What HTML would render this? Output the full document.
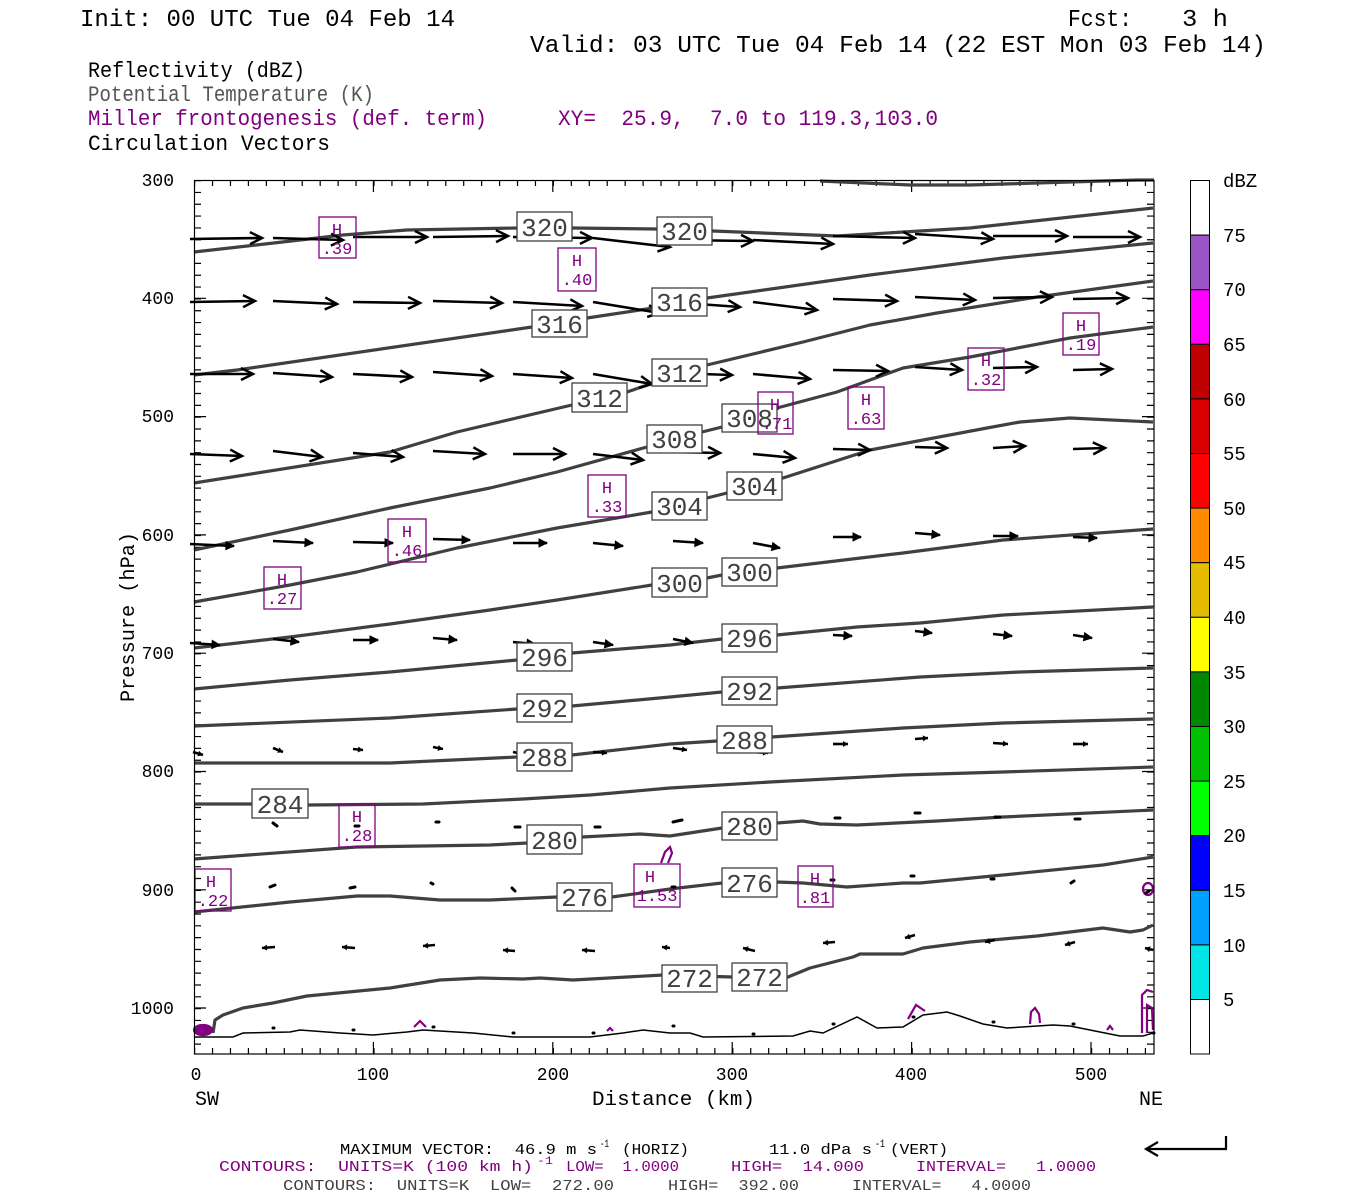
<!DOCTYPE html>
<html><head><meta charset="utf-8"><style>
html,body{margin:0;padding:0;background:#fff;}
svg{display:block;}
text{font-family:"Liberation Mono","DejaVu Sans Mono",monospace;white-space:pre;}
</style></head><body>
<svg width="1350" height="1200" viewBox="0 0 1350 1200" xmlns="http://www.w3.org/2000/svg" xml:space="preserve">
<defs>
<marker id="ab" viewBox="-14 -8 16 16" markerWidth="16" markerHeight="16" refX="0" refY="0" orient="auto" markerUnits="userSpaceOnUse" overflow="visible"><path d="M-12,-6 L0,0 L-12,6" fill="none" stroke="#000" stroke-width="2.5"/></marker>
<marker id="am" viewBox="-10 -6 12 12" markerWidth="12" markerHeight="12" refX="0" refY="0" orient="auto" markerUnits="userSpaceOnUse" overflow="visible"><path d="M-8,-4 L0,0 L-8,4 Z" fill="#000" stroke="#000" stroke-width="1"/></marker>
<marker id="as" viewBox="-8 -4 10 8" markerWidth="10" markerHeight="8" refX="0" refY="0" orient="auto" markerUnits="userSpaceOnUse" overflow="visible"><path d="M-5,-3 L0,0 L-5,3 Z" fill="#000"/></marker>
</defs>

<!-- header -->
<text x="80" y="26" font-size="24" textLength="375" lengthAdjust="spacingAndGlyphs">Init: 00 UTC Tue 04 Feb 14</text>
<text x="1068" y="26" font-size="24" textLength="64" lengthAdjust="spacingAndGlyphs">Fcst:</text>
<text x="1182" y="26" font-size="24" textLength="46" lengthAdjust="spacingAndGlyphs">3 h</text>
<text x="530" y="52" font-size="24" textLength="736" lengthAdjust="spacingAndGlyphs">Valid: 03 UTC Tue 04 Feb 14 (22 EST Mon 03 Feb 14)</text>
<text x="88" y="77" font-size="22" textLength="217" lengthAdjust="spacingAndGlyphs">Reflectivity (dBZ)</text>
<text x="88" y="101" font-size="22" fill="#555" textLength="286" lengthAdjust="spacingAndGlyphs">Potential Temperature (K)</text>
<text x="88" y="125" font-size="22" fill="#800080" textLength="399" lengthAdjust="spacingAndGlyphs">Miller frontogenesis (def. term)</text>
<text x="558" y="125" font-size="22" fill="#800080" textLength="380" lengthAdjust="spacingAndGlyphs">XY=  25.9,  7.0 to 119.3,103.0</text>
<text x="88" y="150" font-size="22" textLength="242" lengthAdjust="spacingAndGlyphs">Circulation Vectors</text>

<!-- ticks -->
<g stroke="#000" fill="none">
<line x1="194" y1="183" x2="1155" y2="183" stroke-width="6" stroke-dasharray="1.2 16.74"/>
<line x1="194" y1="1051" x2="1155" y2="1051" stroke-width="6" stroke-dasharray="1.2 16.74"/>
<line x1="197.5" y1="180" x2="197.5" y2="1054" stroke-width="7" stroke-dasharray="1.2 10.629"/>
<line x1="1150.5" y1="180" x2="1150.5" y2="1054" stroke-width="7" stroke-dasharray="1.2 10.629"/>
</g>
<g stroke="#000" stroke-width="1.2">
<path d="M373.4,180v12M552.8,180v12M732.2,180v12M911.6,180v12M1091,180v12M373.4,1054v-12M552.8,1054v-12M732.2,1054v-12M911.6,1054v-12M1091,1054v-12"/>
<path d="M194,298.3h12M194,416.6h12M194,534.9h12M194,653.2h12M194,771.5h12M194,889.8h12M194,1008h12M1154,298.3h-12M1154,416.6h-12M1154,534.9h-12M1154,653.2h-12M1154,771.5h-12M1154,889.8h-12M1154,1008h-12"/>
</g>

<!-- isentropes -->
<g fill="none" stroke="#404040" stroke-width="3.2" stroke-linejoin="round">
<path d="M820,181 L910,185 L970,185 L1137,180 L1154,180"/>
<path d="M194,252 L300,240 L343,235 L407,230 L517,228 L572,228 L657,229 L713,231 L837,236 L970,228 L1153,208"/>
<path d="M194,375 L237,370 L532,327 L587,318 L653,308 L707,298 L870,275 L1003,258 L1153,243"/>
<path d="M194,483 L390,452 L457,432 L572,405 L627,392 L653,383 L707,365 L803,342 L870,325 L937,313 L1037,297 L1153,281"/>
<path d="M194,550 L290,530 L390,508 L490,488 L557,472 L647,447 L702,432 L722,427 L777,408 L837,392 L903,368 L970,357 L1070,338 L1153,327"/>
<path d="M194,602 L290,585 L357,572 L457,548 L557,528 L652,512 L707,498 L727,493 L783,478 L870,450 L987,428 L1020,422 L1070,418 L1153,422"/>
<path d="M194,648 L290,637 L390,624 L490,610 L557,600 L652,585 L707,578 L722,575 L777,568 L903,553 L1003,540 L1153,529"/>
<path d="M194,689 L290,680 L390,672 L517,660 L572,653 L670,645 L722,639 L777,635 L857,627 L920,623 L1003,615 L1153,607"/>
<path d="M194,726 L390,718 L517,709 L572,706 L670,697 L722,692 L777,688 L920,677 L1020,672 L1153,668"/>
<path d="M194,763 L390,763 L517,757 L572,755 L670,744 L717,741 L772,737 L903,728 L1003,723 L1153,719"/>
<path d="M194,804 L252,804 L308,805 L423,804 L523,799 L590,795 L670,788 L770,782 L903,775 L1003,772 L1153,767"/>
<path d="M194,859 L357,847 L490,845 L527,843 L582,837 L640,834 L670,836 L722,828 L777,823 L803,821 L820,824 L857,825 L937,821 L1003,817 L1153,810"/>
<path d="M194,912 L290,902 L357,896 L390,896 L440,900 L490,900 L557,897 L612,897 L670,889 L722,883 L777,882 L803,883 L847,887 L903,883 L920,883 L1003,875 L1103,865 L1153,857"/>
<path d="M213,1033 L215,1020 L223,1015 L243,1008 L273,1003 L307,996 L390,988 L440,980 L480,978 L523,979 L540,978 L573,980 L663,975 L732,977 L788,977 L810,968 L853,957 L860,954 L903,954 L923,948 L970,942 L1037,936 L1103,928 L1130,932 L1143,930 L1153,925"/>
</g>
<!-- ground -->
<path d="M194,1037 L233,1037 L243,1033 L290,1032 L300,1030 L340,1033 L373,1035 L407,1032 L423,1030 L473,1033 L513,1037 L590,1037 L623,1033 L643,1030 L670,1033 L690,1033 L703,1037 L793,1036 L810,1031 L823,1033 L857,1017 L877,1028 L903,1027 L923,1015 L947,1012 L960,1016 L983,1024 L1007,1028 L1053,1025 L1070,1026 L1120,1036 L1143,1036 L1153,1033" fill="none" stroke="#000" stroke-width="1.5"/>

<!-- purple small contours -->
<g fill="none" stroke="#800080" stroke-width="2.2">
<ellipse cx="203" cy="1030" rx="9" ry="5" fill="#800080"/>
<path d="M414,1027 L420,1021 L426,1027"/>
<path d="M607,1031 L610,1028 L613,1031"/>
<path d="M908,1019 L916,1005 L925,1011"/>
<path d="M1030,1024 L1031,1012 L1035,1008 L1039,1014 L1040,1023"/>
<path d="M1107,1030 L1110,1026 L1113,1030"/>
<path d="M1142,1033 L1142,995 L1147,990 L1153,992 M1147,1033 L1147,1005 L1152,1008 L1153,1030"/>
<ellipse cx="1148" cy="889" rx="5" ry="6"/>
<path d="M661,863 L665,852 L670,847 L672,853 L668,863"/>
</g>

<!-- vectors -->
<g stroke="#000" stroke-width="2.6" fill="none" marker-end="url(#ab)">
<line x1="190" y1="239" x2="262" y2="238"/><line x1="273" y1="238" x2="343" y2="240"/><line x1="353" y1="237" x2="427" y2="237"/><line x1="433" y1="237" x2="508" y2="236"/><line x1="513" y1="237" x2="592" y2="238"/><line x1="593" y1="238" x2="670" y2="247"/><line x1="674" y1="240" x2="753" y2="241"/><line x1="753" y1="240" x2="833" y2="244"/><line x1="833" y1="236" x2="915" y2="238"/><line x1="915" y1="234" x2="993" y2="239"/><line x1="993" y1="236" x2="1067" y2="236"/><line x1="1073" y1="237" x2="1140" y2="237"/>
<line x1="190" y1="302" x2="255" y2="301"/><line x1="273" y1="301" x2="337" y2="304"/><line x1="353" y1="302" x2="420" y2="303"/><line x1="433" y1="301" x2="502" y2="303"/><line x1="513" y1="302" x2="582" y2="306"/><line x1="593" y1="302" x2="660" y2="313"/><line x1="670" y1="302" x2="740" y2="307"/><line x1="753" y1="302" x2="817" y2="310"/><line x1="833" y1="299" x2="897" y2="301"/><line x1="915" y1="297" x2="975" y2="300"/><line x1="993" y1="298" x2="1052" y2="297"/><line x1="1073" y1="299" x2="1128" y2="298"/>
<line x1="190" y1="374" x2="253" y2="374"/><line x1="273" y1="373" x2="332" y2="377"/><line x1="353" y1="374" x2="412" y2="377"/><line x1="433" y1="372" x2="492" y2="376"/><line x1="513" y1="374" x2="572" y2="378"/><line x1="593" y1="374" x2="652" y2="384"/><line x1="670" y1="373" x2="732" y2="375"/><line x1="753" y1="374" x2="810" y2="379"/><line x1="833" y1="370" x2="888" y2="371"/><line x1="915" y1="367" x2="962" y2="370"/><line x1="993" y1="368" x2="1037" y2="367"/><line x1="1073" y1="370" x2="1112" y2="369"/>
<line x1="190" y1="454" x2="242" y2="456"/><line x1="273" y1="451" x2="322" y2="457"/><line x1="353" y1="453" x2="403" y2="457"/><line x1="433" y1="451" x2="485" y2="454"/><line x1="513" y1="454" x2="565" y2="454"/><line x1="593" y1="454" x2="643" y2="460"/><line x1="670" y1="452" x2="720" y2="453"/><line x1="753" y1="454" x2="795" y2="458"/><line x1="833" y1="449" x2="870" y2="450"/><line x1="915" y1="447" x2="947" y2="448"/><line x1="993" y1="448" x2="1025" y2="446"/><line x1="1073" y1="449" x2="1105" y2="448"/>
</g>
<g stroke="#000" stroke-width="2.6" fill="none" marker-end="url(#am)">
<line x1="190" y1="544" x2="234" y2="546"/><line x1="273" y1="541" x2="313" y2="543"/><line x1="353" y1="542" x2="393" y2="543"/><line x1="433" y1="539" x2="470" y2="540"/><line x1="513" y1="543" x2="547" y2="543"/><line x1="593" y1="543" x2="623" y2="546"/><line x1="673" y1="541" x2="703" y2="543"/><line x1="753" y1="543" x2="780" y2="548"/><line x1="833" y1="537" x2="861" y2="537"/><line x1="915" y1="533" x2="940" y2="535"/><line x1="993" y1="536" x2="1018" y2="536"/><line x1="1073" y1="537" x2="1097" y2="538"/>
<line x1="190" y1="643" x2="220" y2="645"/><line x1="273" y1="639" x2="299" y2="642"/><line x1="353" y1="640" x2="378" y2="640"/><line x1="433" y1="638" x2="457" y2="640"/><line x1="513" y1="642" x2="535" y2="644"/><line x1="593" y1="642" x2="613" y2="645"/><line x1="673" y1="639" x2="693" y2="643"/><line x1="753" y1="643" x2="772" y2="645"/><line x1="833" y1="635" x2="852" y2="636"/><line x1="915" y1="631" x2="932" y2="633"/><line x1="993" y1="634" x2="1012" y2="636"/><line x1="1073" y1="635" x2="1092" y2="638"/>
</g>
<g stroke="#000" stroke-width="2.6" fill="none" marker-end="url(#as)">
<line x1="193" y1="752" x2="203" y2="755"/><line x1="273" y1="748" x2="283" y2="752"/><line x1="353" y1="749" x2="363" y2="750"/><line x1="433" y1="747" x2="443" y2="749"/><line x1="513" y1="752" x2="523" y2="754"/><line x1="593" y1="752" x2="607" y2="753"/><line x1="673" y1="748" x2="687" y2="750"/><line x1="753" y1="752" x2="768" y2="753"/><line x1="833" y1="744" x2="848" y2="744"/><line x1="915" y1="739" x2="928" y2="738"/><line x1="993" y1="743" x2="1008" y2="744"/><line x1="1073" y1="744" x2="1088" y2="744"/>
<line x1="275" y1="947" x2="262" y2="948"/><line x1="355" y1="948" x2="342" y2="947"/><line x1="435" y1="945" x2="423" y2="946"/><line x1="515" y1="951" x2="503" y2="950"/><line x1="595" y1="951" x2="582" y2="950"/><line x1="670" y1="948" x2="662" y2="947"/><line x1="755" y1="951" x2="743" y2="948"/><line x1="835" y1="942" x2="823" y2="943"/><line x1="915" y1="935" x2="905" y2="938"/><line x1="995" y1="940" x2="985" y2="942"/><line x1="1075" y1="942" x2="1065" y2="945"/><line x1="1153" y1="950" x2="1145" y2="948"/>
</g>
<g stroke="#000" stroke-width="3" stroke-linecap="round">
<path d="M273,823L277,826M355,826L359,826M436,822L439,822M515,827L520,827M595,827L600,827M673,822L682,820M835,818L840,818M915,813L920,813M995,817L1000,817M1075,819L1080,819"/>
<path d="M270,887L275,885M350,888L355,887M431,883L433,884M512,888L515,891M589,887L592,887M672,887L675,887M749,890L752,890M831,880L834,880M911,876L914,876M991,879L994,879M1071,883L1074,881M1146,893L1149,891"/>
<path d="M273,1028L274,1028M353,1030L354,1030M433,1027L434,1027M513,1033L514,1033M593,1033L594,1033M673,1026L674,1026M753,1034L754,1034M833,1024L834,1024M913,1017L914,1017M993,1022L994,1022M1073,1024L1074,1024M1153,1033L1154,1033"/>
</g>

<!-- contour labels -->
<g font-size="26" fill="#404040">
<g fill="#fff" stroke="#404040" stroke-width="1.3">
<rect x="517" y="212" width="55" height="29"/><rect x="657" y="217" width="55" height="28"/>
<rect x="532" y="310" width="55" height="27"/><rect x="652" y="288" width="55" height="28"/>
<rect x="572" y="383" width="55" height="29"/><rect x="652" y="359" width="55" height="27"/>
<rect x="647" y="425" width="55" height="28"/><rect x="722" y="404" width="55" height="28"/>
<rect x="652" y="492" width="55" height="28"/><rect x="727" y="472" width="55" height="28"/>
<rect x="652" y="568" width="55" height="29"/><rect x="722" y="558" width="55" height="28"/>
<rect x="517" y="643" width="55" height="28"/><rect x="722" y="624" width="55" height="28"/>
<rect x="517" y="694" width="55" height="28"/><rect x="722" y="677" width="55" height="28"/>
<rect x="517" y="743" width="55" height="28"/><rect x="717" y="726" width="55" height="27"/>
<rect x="252" y="789" width="56" height="29"/>
<rect x="527" y="825" width="55" height="29"/><rect x="722" y="812" width="55" height="28"/>
<rect x="557" y="883" width="55" height="28"/><rect x="722" y="868" width="55" height="29"/>
<rect x="662" y="965" width="55" height="27"/><rect x="732" y="963" width="55" height="28"/>
</g>
<g text-anchor="middle">
<text x="544.5" y="236">320</text><text x="684.5" y="240">320</text>
<text x="559.5" y="333">316</text><text x="679.5" y="311">316</text>
<text x="599.5" y="407">312</text><text x="679.5" y="382">312</text>
<text x="674.5" y="448">308</text><text x="749.5" y="427">308</text>
<text x="679.5" y="515">304</text><text x="754.5" y="495">304</text>
<text x="679.5" y="592">300</text><text x="749.5" y="581">300</text>
<text x="544.5" y="666">296</text><text x="749.5" y="647">296</text>
<text x="544.5" y="717">292</text><text x="749.5" y="700">292</text>
<text x="544.5" y="766">288</text><text x="744.5" y="749">288</text>
<text x="280" y="813">284</text>
<text x="554.5" y="849">280</text><text x="749.5" y="835">280</text>
<text x="584.5" y="906">276</text><text x="749.5" y="892">276</text>
<text x="689.5" y="987">272</text><text x="759.5" y="986">272</text>
</g>
</g>

<!-- H labels -->
<g fill="none" stroke="#800080" stroke-width="1.3">
<rect x="319" y="217" width="37" height="41"/><rect x="558" y="248" width="38" height="43"/>
<rect x="388" y="519" width="38" height="43"/><rect x="264" y="567" width="37" height="42"/>
<rect x="588" y="475" width="38" height="42"/><rect x="758" y="392" width="35" height="42"/>
<rect x="848" y="387" width="36" height="42"/><rect x="968" y="348" width="36" height="42"/>
<rect x="1063" y="313" width="36" height="42"/><rect x="339" y="804" width="36" height="43"/>
<rect x="195" y="869" width="36" height="42"/><rect x="634" y="864" width="46" height="43"/>
<rect x="798" y="866" width="35" height="41"/>
</g>
<g fill="#800080" font-size="17" text-anchor="middle">
<text x="337" y="235">H</text><text x="337" y="254">.39</text>
<text x="577" y="266">H</text><text x="577" y="285">.40</text>
<text x="407" y="537">H</text><text x="407" y="556">.46</text>
<text x="282" y="585">H</text><text x="282" y="604">.27</text>
<text x="607" y="493">H</text><text x="607" y="512">.33</text>
<text x="775" y="410">H</text><text x="777" y="429">.71</text>
<text x="866" y="405">H</text><text x="866" y="424">.63</text>
<text x="986" y="366">H</text><text x="986" y="385">.32</text>
<text x="1081" y="331">H</text><text x="1081" y="350">.19</text>
<text x="357" y="822">H</text><text x="357" y="841">.28</text>
<text x="211" y="887">H</text><text x="213" y="906">.22</text>
<text x="650" y="882">H</text><text x="657" y="901">1.53</text>
<text x="815" y="884">H</text><text x="815" y="903">.81</text>
</g>

<!-- frame -->
<rect x="194.5" y="180.5" width="959.5" height="873.5" fill="none" stroke="#000" stroke-width="1.2"/>

<!-- axis labels -->
<g font-size="18" text-anchor="end">
<text x="174" y="186">300</text><text x="174" y="304">400</text><text x="174" y="422">500</text><text x="174" y="541">600</text>
<text x="174" y="659">700</text><text x="174" y="777">800</text><text x="174" y="896">900</text><text x="174" y="1014">1000</text>
</g>
<g font-size="18" text-anchor="middle">
<text x="196" y="1080">0</text><text x="373" y="1080">100</text><text x="553" y="1080">200</text><text x="732" y="1080">300</text><text x="911" y="1080">400</text><text x="1091" y="1080">500</text>
</g>
<text x="195" y="1105" font-size="20">SW</text>
<text x="1139" y="1105" font-size="20">NE</text>
<text x="592" y="1105" font-size="20" textLength="163" lengthAdjust="spacingAndGlyphs">Distance (km)</text>
<text transform="translate(134,617) rotate(-90)" font-size="20" text-anchor="middle" textLength="170" lengthAdjust="spacingAndGlyphs">Pressure (hPa)</text>

<!-- colorbar -->
<g stroke="#000" stroke-width="1">
<rect x="1190.5" y="180.5" width="19" height="54.6" fill="#fff"/>
<rect x="1190.5" y="235.1" width="19" height="54.6" fill="#9b55c4"/>
<rect x="1190.5" y="289.7" width="19" height="54.6" fill="#ff00ff"/>
<rect x="1190.5" y="344.3" width="19" height="54.6" fill="#c00000"/>
<rect x="1190.5" y="398.9" width="19" height="54.6" fill="#d80000"/>
<rect x="1190.5" y="453.5" width="19" height="54.6" fill="#ff0000"/>
<rect x="1190.5" y="508.1" width="19" height="54.6" fill="#ff8c00"/>
<rect x="1190.5" y="562.7" width="19" height="54.6" fill="#e6bc00"/>
<rect x="1190.5" y="617.3" width="19" height="54.6" fill="#ffff00"/>
<rect x="1190.5" y="671.9" width="19" height="54.6" fill="#008800"/>
<rect x="1190.5" y="726.5" width="19" height="54.6" fill="#00c000"/>
<rect x="1190.5" y="781.1" width="19" height="54.6" fill="#00ff00"/>
<rect x="1190.5" y="835.7" width="19" height="54.6" fill="#0000ff"/>
<rect x="1190.5" y="890.3" width="19" height="54.6" fill="#00a0ff"/>
<rect x="1190.5" y="944.9" width="19" height="54.6" fill="#00e6e6"/>
<rect x="1190.5" y="999.5" width="19" height="54.5" fill="#fff"/>
</g>
<g font-size="19">
<text x="1223" y="187">dBZ</text>
<text x="1223" y="242">75</text><text x="1223" y="296">70</text><text x="1223" y="351">65</text><text x="1223" y="406">60</text>
<text x="1223" y="460">55</text><text x="1223" y="515">50</text><text x="1223" y="569">45</text><text x="1223" y="624">40</text>
<text x="1223" y="679">35</text><text x="1223" y="733">30</text><text x="1223" y="788">25</text><text x="1223" y="842">20</text>
<text x="1223" y="897">15</text><text x="1223" y="952">10</text><text x="1223" y="1006">5</text>
</g>

<!-- footer -->
<g font-size="15">
<text x="340" y="1154" textLength="257" lengthAdjust="spacingAndGlyphs">MAXIMUM VECTOR:  46.9 m s</text>
<text x="600" y="1147" font-size="11" textLength="9" lengthAdjust="spacingAndGlyphs">-1</text>
<text x="622" y="1154" textLength="67" lengthAdjust="spacingAndGlyphs">(HORIZ)</text>
<text x="769" y="1154" textLength="103" lengthAdjust="spacingAndGlyphs">11.0 dPa s</text>
<text x="875" y="1147" font-size="11" textLength="10" lengthAdjust="spacingAndGlyphs">-1</text>
<text x="890" y="1154" textLength="58" lengthAdjust="spacingAndGlyphs">(VERT)</text>
</g>
<g font-size="15" fill="#800080">
<text x="219" y="1171" textLength="314" lengthAdjust="spacingAndGlyphs">CONTOURS:  UNITS=K (100 km h)</text>
<text x="537" y="1164" font-size="11" textLength="16" lengthAdjust="spacingAndGlyphs">-1</text>
<text x="566" y="1171" textLength="113" lengthAdjust="spacingAndGlyphs">LOW=  1.0000</text>
<text x="731" y="1171" textLength="133" lengthAdjust="spacingAndGlyphs">HIGH=  14.000</text>
<text x="916" y="1171" textLength="180" lengthAdjust="spacingAndGlyphs">INTERVAL=   1.0000</text>
</g>
<g font-size="15" fill="#404040">
<text x="283" y="1190" textLength="331" lengthAdjust="spacingAndGlyphs">CONTOURS:  UNITS=K  LOW=  272.00</text>
<text x="668" y="1190" textLength="131" lengthAdjust="spacingAndGlyphs">HIGH=  392.00</text>
<text x="852" y="1190" textLength="179" lengthAdjust="spacingAndGlyphs">INTERVAL=   4.0000</text>
</g>
<path d="M1226,1136 V1149 H1146 M1158,1142 L1146,1149 L1158,1156" fill="none" stroke="#000" stroke-width="2.2"/>
</svg>
</body></html>
